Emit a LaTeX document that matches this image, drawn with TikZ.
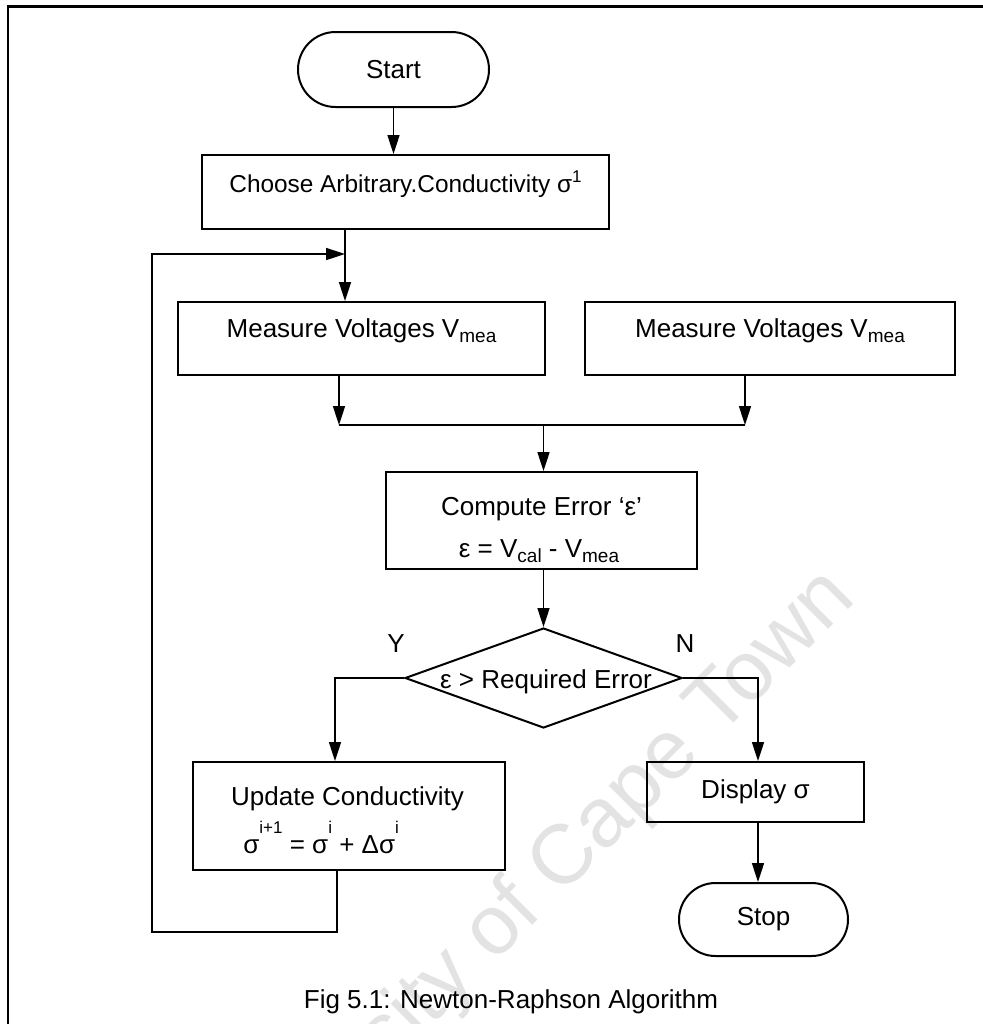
\documentclass[tikz,border=0pt]{standalone}
\usepackage{fontspec}
\setmainfont{Liberation Sans}
\usetikzlibrary{arrows.meta,shapes.misc,shapes.geometric}

% small raised / lowered text for indices
\newcommand\supx[2]{\raisebox{#1}{\fontsize{8.5}{8.5}\selectfont #2}}
\newcommand\subx[1]{\raisebox{-2.5pt}{\fontsize{9.5}{9.5}\selectfont #1}}

\begin{document}
\begin{tikzpicture}[x=0.5pt,y=-0.5pt,
  every node/.style={font=\fontsize{13}{16}\selectfont, inner sep=0pt},
  box/.style={draw, line width=1pt, rectangle},
  term/.style={draw, line width=1pt, rounded rectangle},
  lbl/.style={anchor=base},
  link/.style={line width=0.8pt},
  arr/.style={link, -{Triangle[length=9.5pt,width=6pt]}},
  wmark/.style={text=black!11, font=\fontsize{42}{42}\selectfont, rotate=45}
]
\path[use as bounding box, clip] (0,0) rectangle (983,1024);

% faint watermark behind the chart
\node[wmark] (wm) at (522,905) {University of Cape Town};

% page frame
\draw[line width=1.3pt] (8,1024) -- (8,6.5) -- (983,6.5);

% shapes
\node[term, minimum width=95.5pt, minimum height=37.5pt] (start) at (393.5,69.5) {Start};
\node[box, minimum width=203.5pt, minimum height=37pt] (choose) at (405.5,192) {};
\node[box, minimum width=183.5pt, minimum height=36.5pt] (meas1) at (361.5,338.5) {};
\node[box, minimum width=185pt, minimum height=36.5pt] (meas2) at (770,338.5) {};
\node[box, minimum width=155.5pt, minimum height=48.5pt] (comp) at (541.5,520.5) {};
\node[diamond, draw, line width=1pt, minimum width=138.5pt, minimum height=50pt] (dec) at (543.5,678) {};
\node[box, minimum width=156pt, minimum height=54pt] (upd) at (348.5,816) {};
\node[box, minimum width=108.5pt, minimum height=30pt] (disp) at (755.5,792) {Display σ};
\node[term, minimum width=84.5pt, minimum height=36.5pt] (stop) at (763.5,919.5) {Stop};

% texts
\node[lbl, font=\fontsize{12.2}{14}\selectfont] (choose-t) at (405.5,192) {Choose Arbitrary.Conductivity σ\supx{5pt}{1}};
\node[lbl] (meas1-t) at (361.5,337) {Measure Voltages V\subx{mea}};
\node[lbl] (meas2-t) at (770,337) {Measure Voltages V\subx{mea}};
\node[lbl] (comp-t1) at (541.5,515) {Compute Error ‘ε’};
\node[lbl] (comp-t2) at (539,557) {ε = V\subx{cal} - V\subx{mea}};
\node[lbl] (dec-t) at (546,688) {ε > Required Error};
\node[lbl] (upd-t1) at (347.5,805) {Update Conductivity};
\node[anchor=base west] (upd-t2) at (243,853) {σ\supx{10pt}{i+1} = σ\supx{10pt}{i} + Δσ\supx{10pt}{i}};
\node[lbl] (yes-t) at (396,652) {Y};
\node[lbl] (no-t) at (685,652) {N};
\node[lbl] (cap) at (511,1008) {Fig 5.1: Newton-Raphson Algorithm};

% routing points
\coordinate (loopin) at (345,254);
\coordinate (barL) at (339,425);
\coordinate (barR) at (745,425);
\coordinate (barM) at (543.5,425);
\coordinate (yes) at (335,0);
\coordinate (no) at (758,0);
\coordinate (updout) at (337,0);
\coordinate (back) at (152,932);

% connectors
\draw[arr] (start.south) -- (start.south |- choose.north);
\draw[arr] (loopin |- choose.south) -- (loopin |- meas1.north);
\draw[arr] (barL |- meas1.south) -- (barL);
\draw[arr] (barR |- meas2.south) -- (barR);
\draw[link] (barL) -- (barR);
\draw[arr] (barM) -- (barM |- comp.north);
\draw[arr] (barM |- comp.south) -- (dec.north);
\draw[arr] (dec.west) -| (yes |- upd.north);
\draw[arr] (dec.east) -| (no |- disp.north);
\draw[arr] (no |- disp.south) -- (no |- stop.north);
\draw[arr] (updout |- upd.south) |- (back) |- (loopin);
\end{tikzpicture}
\end{document}
